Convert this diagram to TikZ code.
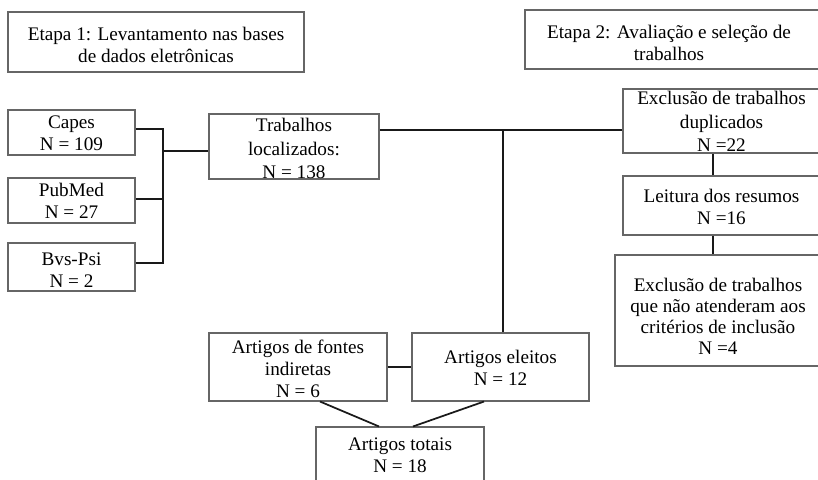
\documentclass[tikz,border=0pt]{standalone}
\usepackage{fontspec}
\setmainfont{Liberation Serif}
\usetikzlibrary{calc}
\begin{document}
\begin{tikzpicture}[x=0.75pt,y=-0.75pt,
 box/.style 2 args={draw=black!60, line width=0.8pt, minimum width=#1*0.75pt, minimum height=#2*0.75pt, inner sep=0pt},
 txt/.style={align=center, inner sep=0pt, font=\fontsize{14.4pt}{16.5pt}\selectfont, text=black},
 conn/.style={draw=black!90, line width=1.3pt}]
\useasboundingbox (0,0) rectangle (818,479);
\clip (0,0) rectangle (818,479);
% boxes
\node[box={296}{60}] (e1) at (156,42) {};
\node[box={297}{59}] (e2) at (673.5,39.5) {};
\node[box={127}{45}] (capes) at (71.5,132.5) {};
\node[box={127}{45}] (pubmed) at (71.5,200.5) {};
\node[box={127}{48}] (bvs) at (71.5,267) {};
\node[box={170}{65}] (trab) at (294,146.5) {};
\node[box={199}{64}] (dup) at (722.5,121) {};
\node[box={199}{59}] (leit) at (722.5,205.5) {};
\node[box={207}{111}] (crit) at (718.5,310.5) {};
\node[box={178}{68}] (font) at (298,367) {};
\node[box={177}{68}] (eleit) at (500.5,367) {};
\node[box={168}{73}] (tot) at (400,463.5) {};
% texts
\node[txt] (e1t) at (156,45) {Etapa 1: Levantamento nas bases\\de dados eletrônicas};
\node[txt] (e2t) at (669,43) {Etapa 2: Avaliação e seleção de\\trabalhos};
\node[txt] (capest) at (71.5,133) {Capes\\N = 109};
\node[txt] (pubmedt) at (71.5,201) {PubMed\\N = 27};
\node[txt] (bvst) at (71.5,270) {Bvs-Psi\\N = 2};
\node[txt, font=\fontsize{14.4pt}{17.5pt}\selectfont] (trabt) at (294,148.5) {Trabalhos\\localizados:\\N = 138};
\node[txt, font=\fontsize{14.4pt}{17.5pt}\selectfont] (dupt) at (721.5,121.5) {Exclusão de trabalhos\\duplicados\\N =22};
\node[txt] (leitt) at (721.5,206.5) {Leitura dos resumos\\N =16};
\node[txt, font=\fontsize{14.4pt}{15.8pt}\selectfont] (critt) at (718,316.5) {Exclusão de trabalhos\\que não atenderam aos\\critérios de inclusão\\N =4};
\node[txt] (fontt) at (298,369) {Artigos de fontes\\indiretas\\N = 6};
\node[txt] (eleitt) at (500.5,368) {Artigos eleitos\\N = 12};
\node[txt] (tott) at (400,455) {Artigos totais\\N = 18};
% connectors
\coordinate (j1) at (163,151);
\coordinate (j2) at (503,130);
\coordinate (cx) at (713,0);
\draw[conn] ($(capes.east)+(0,-3.5)$) -| (j1);
\draw[conn] ($(pubmed.east)+(0,-1.5)$) -| (j1);
\draw[conn] ($(bvs.east)+(0,-4)$) -| (j1);
\draw[conn] (j1) -- (j1 -| trab.west);
\draw[conn] (j2 -| trab.east) -- (j2 -| dup.west);
\draw[conn] (j2) -- (j2 |- eleit.north);
\draw[conn] (cx |- dup.south) -- (cx |- leit.north);
\draw[conn] (cx |- leit.south) -- (cx |- crit.north);
\draw[conn] (font.east) -- (eleit.west);
\draw[conn] ($(font.south)+(22,0)$) -- ($(tot.north)+(-21,0)$);
\draw[conn] ($(eleit.south)+(-16.5,0)$) -- ($(tot.north)+(13,0)$);
\end{tikzpicture}
\end{document}
